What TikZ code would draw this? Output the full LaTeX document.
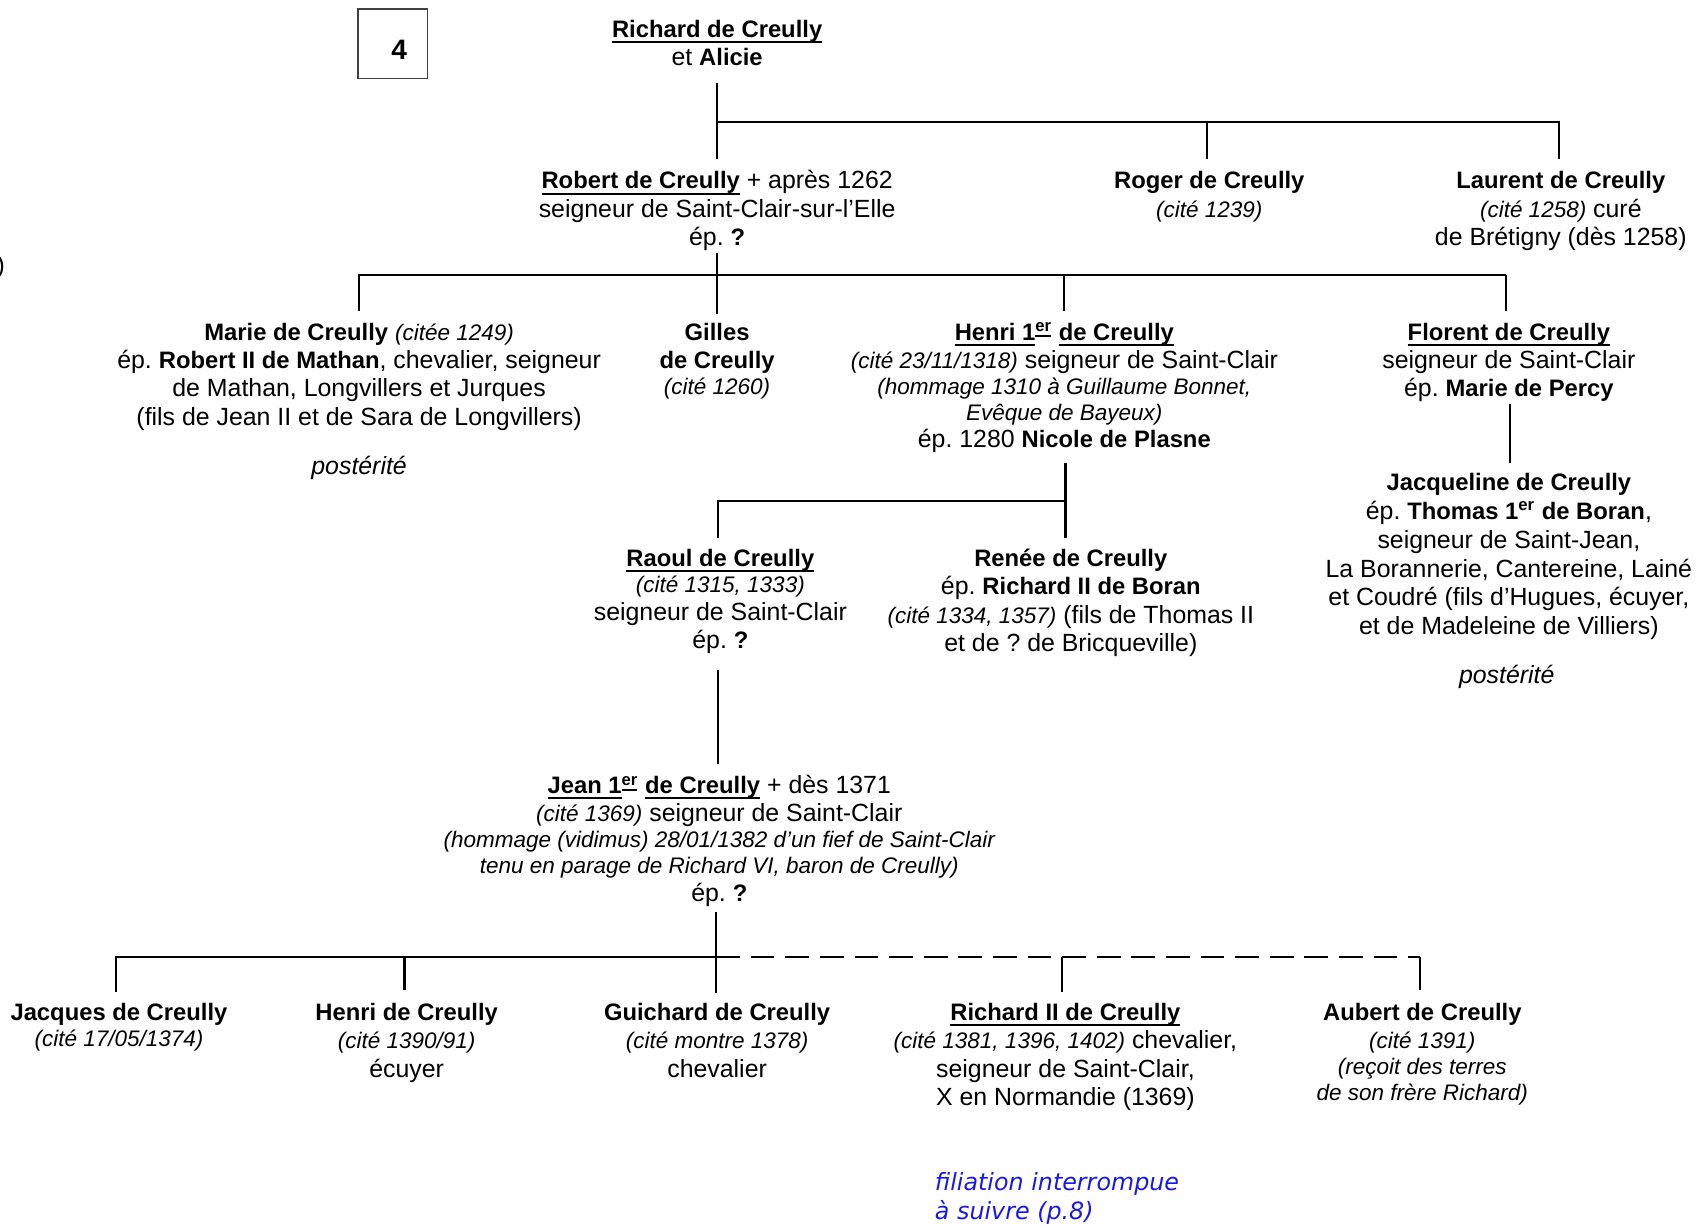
\documentclass[tikz,border=0pt]{standalone}
\usepackage{fontspec}
\setmainfont{Liberation Sans}
\newfontfamily\bluefont{DejaVu Sans}
\newsavebox\undlbox
\newcommand\undl[1]{\sbox\undlbox{#1}\rlap{\rule[-2.6pt]{\wd\undlbox}{0.9pt}}\usebox\undlbox}
\definecolor{lnkblue}{RGB}{25,25,230}
\newcommand\nm[1]{{\fontsize{11}{13}\selectfont\bfseries #1}}
\newcommand\un[1]{{\fontsize{11}{13}\selectfont\bfseries\undl{#1}}}
\newcommand\ci[1]{{\fontsize{10.4}{12}\selectfont\itshape #1}}
\frenchspacing
\tikzset{
  conn/.style={line width=1pt, black},
  person/.style={inner sep=0pt, outer sep=0pt, align=center, anchor=north,
    font=\fontsize{11.5}{13}\selectfont\frenchspacing},
}
\begin{document}
\begin{tikzpicture}[x=0.5pt,y=-0.5pt]
\useasboundingbox (0,0) rectangle (1568,1132);

% number box
\node[draw=black!75, line width=0.6pt, minimum width=32.2pt, minimum height=32pt, inner sep=0pt] (box) at (363.2,40.3) {};
\node[inner sep=0pt] (four) at (369,46) {\fontsize{13}{15}\selectfont\bfseries 4};
\node[person, anchor=base east] (paren) at (4.5,253) {)};

% generation 0
\node[person] (richard) at (663,16.5) {\strut\un{Richard de Creully}\\ et \nm{Alicie}\strut};

% generation 1
\node[person] (robert) at (663,156.5) {\strut\un{Robert de Creully} + après 1262\\ seigneur de Saint-Clair-sur-l’Elle\\ ép. \nm{?}\strut};
\node[person] (roger) at (1118,156.5) {\strut\nm{Roger de Creully}\\ \ci{(cité 1239)}};
\node[person] (laurent) at (1443,156.5) {\strut\nm{Laurent de Creully}\\ \ci{(cité 1258)} curé\\ de Brétigny (dès 1258)};

% generation 2
\node[person] (marie) at (332,296.5) {\strut\nm{Marie de Creully} \ci{(citée 1249)}\\ ép. \nm{Robert II de Mathan}, chevalier, seigneur\\ de Mathan, Longvillers et Jurques\\[0.5pt] (fils de Jean II et de Sara de Longvillers)};
\node[person] (post1) at (332,420.5) {\strut\itshape postérité};
\node[person] (gilles) at (663,296.5) {\strut\nm{Gilles}\\ \nm{de Creully}\\[-1pt] \ci{(cité 1260)}};
\node[person] (henri) at (984,296.5) {\strut{\fontsize{11}{13}\selectfont\bfseries\undl{Henri 1}\textsuperscript{\undl{er}} \undl{de Creully}}\\ \ci{(cité 23/11/1318)} seigneur de Saint-Clair\\[-1pt] \ci{(hommage 1310 à Guillaume Bonnet,}\\[-1pt] \ci{Evêque de Bayeux)}\\[-0.5pt] ép. 1280 \nm{Nicole de Plasne}\strut};
\node[person] (florent) at (1395,296.5) {\strut\un{Florent de Creully}\\ seigneur de Saint-Clair\\ ép. \nm{Marie de Percy}\strut};
\node[person] (jacqueline) at (1395,435.5) {\strut\nm{Jacqueline de Creully}\\[0.3pt] ép. \nm{Thomas 1\textsuperscript{er} de Boran},\\[0.3pt] seigneur de Saint-Jean,\\[0.3pt] La Borannerie, Cantereine, Lainé\\[0.3pt] et Coudré (fils d’Hugues, écuyer,\\[0.3pt] et de Madeleine de Villiers)};
\node[person] (post2) at (1393,613.5) {\strut\itshape postérité};

% generation 3
\node[person] (raoul) at (666,505.5) {\strut\un{Raoul de Creully}\\[-1pt] \ci{(cité 1315, 1333)}\\ seigneur de Saint-Clair\\ ép. \nm{?}\strut};
\node[person] (renee) at (990,505.5) {\strut\nm{Renée de Creully}\\ ép. \nm{Richard II de Boran}\\[0.5pt] \ci{(cité 1334, 1357)} (fils de Thomas II\\ et de ? de Bricqueville)};

% generation 4
\node[person] (jean) at (665,715.5) {\strut{\fontsize{11}{13}\selectfont\bfseries\undl{Jean 1}\textsuperscript{\undl{er}} \undl{de Creully}} + dès 1371\\ \ci{(cité 1369)} seigneur de Saint-Clair\\[-1pt] \ci{(hommage (vidimus) 28/01/1382 d’un fief de Saint-Clair}\\[-1pt] \ci{tenu en parage de Richard VI, baron de Creully)}\\ ép. \nm{?}\strut};

% generation 5
\node[person] (jacques) at (110,925.5) {\strut\nm{Jacques de Creully}\\[-1pt] \ci{(cité 17/05/1374)}};
\node[person] (henri2) at (376,925.5) {\strut\nm{Henri de Creully}\\ \ci{(cité 1390/91)}\\ écuyer};
\node[person] (guichard) at (663,925.5) {\strut\nm{Guichard de Creully}\\ \ci{(cité montre 1378)}\\ chevalier};
\node[person] (richard2) at (985,925.5) {\strut\un{Richard II de Creully}\\ \ci{(cité 1381, 1396, 1402)} chevalier,\\ seigneur de Saint-Clair,\\ X en Normandie (1369)};
\node[person] (aubert) at (1315,925.5) {\strut\nm{Aubert de Creully}\\ \ci{(cité 1391)}\\[-1pt] \ci{(reçoit des terres}\\[-1pt] \ci{de son frère Richard)}};

\node[inner sep=0pt, anchor=north west, align=left, text=lnkblue,
  font={\bluefont\itshape\fontsize{11}{13.5}\selectfont}] (suite) at (864,1081.5) {\strut filiation interrompue\\ à suivre (p.8)};

% junctions
\coordinate (b1) at (663,113);
\coordinate (b1m) at (1116,113);
\coordinate (b1r) at (1441,113);
\coordinate (b2l) at (332,254);
\coordinate (b2h) at (984,254);
\coordinate (b2r) at (1392,254);
\coordinate (fj) at (1396,373);
\coordinate (b3l) at (664,463);
\coordinate (b3r) at (985,463);
\coordinate (b4l) at (107,885);
\coordinate (b4h) at (374,885);
\coordinate (b4m) at (662,885);
\coordinate (b4r) at (982,885);
\coordinate (b4a) at (1313,885);

% connectors
\draw[conn, shorten <=4.3pt, shorten >=4.7pt] (richard.south) -- (richard.south |- robert.north);
\draw[conn, shorten >=4.7pt] (b1) -- (b1r) -- (b1r |- laurent.north);
\draw[conn, shorten >=4.7pt] (b1m) -- (b1m |- roger.north);

\draw[conn, shorten <=-0.4pt, shorten >=3.2pt] (robert.south) -- (robert.south |- gilles.north);
\draw[conn, shorten >=4.7pt] (b2r) -- (b2l) -- (b2l |- marie.north);
\draw[conn, shorten >=4.7pt] (b2h) -- (b2h |- henri.north);
\draw[conn, shorten >=4.7pt] (b2r) -- (b2r |- florent.north);
\draw[conn, shorten <=-0.3pt, shorten >=3.7pt] (fj |- florent.south) -- (fj |- jacqueline.north);

\draw[conn, shorten <=3.3pt, shorten >=4.2pt] (henri.south -| b3r) -- (b3r |- renee.north);
\draw[conn, shorten >=4.2pt] (b3r) -- (b3l) -- (b3l |- raoul.north);
\draw[conn, shorten <=5.8pt, shorten >=4.7pt] (raoul.south -| b3l) -- (b3l |- jean.north);

\draw[conn, shorten <=0.8pt, shorten >=3.7pt] (jean.south -| b4m) -- (b4m |- guichard.north);
\draw[conn, shorten >=4.2pt] (b4m) -- (b4l) -- (b4l |- jacques.north);
\draw[conn, shorten >=5.2pt] (b4h) -- (b4h |- henri2.north);
\draw[conn, dash pattern=on 11pt off 5pt] (b4m) -- (b4a);
\draw[conn, shorten >=4.2pt] (b4r) -- (b4r |- richard2.north);
\draw[conn, shorten >=5.2pt] (b4a) -- (b4a |- aubert.north);
\end{tikzpicture}
\end{document}
